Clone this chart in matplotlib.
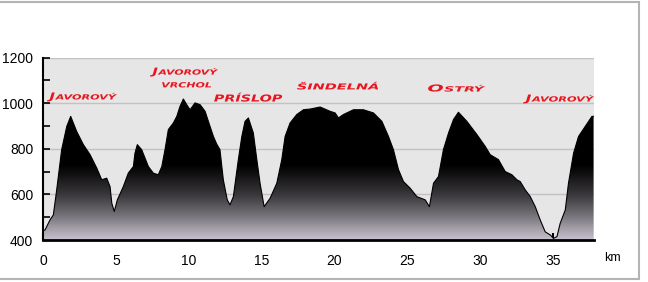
import numpy as np
import matplotlib
matplotlib.use('Agg')
import matplotlib.pyplot as plt
from matplotlib.patches import Polygon, PathPatch, Rectangle
from matplotlib.textpath import TextPath
from matplotlib.font_manager import FontProperties
from matplotlib.path import Path
from matplotlib.transforms import Affine2D, ScaledTranslation

# elevation profile (km, m a.s.l.)
km = [0.0, 0.14, 0.48, 0.71, 0.94, 1.28, 1.63, 1.90, 2.31, 2.77, 3.23, 3.69, 4.03, 4.37,
      4.60, 4.72, 4.89, 5.10, 5.51, 5.85, 6.20, 6.31, 6.47, 6.77, 7.00, 7.23, 7.57, 7.91,
      8.15, 8.37, 8.60, 8.94, 9.18, 9.40, 9.63, 9.86, 10.09, 10.43, 10.78, 11.12, 11.46,
      11.69, 11.92, 12.14, 12.37, 12.64, 12.83, 13.06, 13.40, 13.64, 13.86, 14.09, 14.43,
      14.67, 14.89, 15.17, 15.58, 16.04, 16.38, 16.61, 16.95, 17.41, 17.87, 18.33, 19.01,
      19.70, 20.04, 20.27, 20.61, 21.30, 21.98, 22.67, 23.25, 23.70, 24.04, 24.39, 24.73,
      25.19, 25.65, 26.22, 26.51, 26.79, 27.13, 27.47, 27.82, 28.16, 28.50, 29.08, 29.77,
      30.34, 30.68, 31.25, 31.71, 32.17, 32.51, 32.74, 33.08, 33.43, 33.77, 34.11, 34.45,
      34.80, 35.02, 35.26, 35.48, 35.83, 36.05, 36.40, 36.74, 37.20, 37.66, 37.77]
elev = [440, 444, 488, 510, 620, 796, 898, 942, 876, 818, 774, 715, 664, 671,
        634, 561, 525, 576, 634, 693, 722, 781, 818, 796, 759, 722, 693, 686,
        722, 796, 884, 913, 942, 986, 1018, 993, 971, 1001, 993, 964, 898,
        854, 820, 796, 664, 576, 554, 590, 752, 854, 920, 935, 869,
        752, 649, 546, 583, 649, 752, 854, 913, 950, 971, 974, 983,
        964, 957, 935, 950, 971, 971, 957, 920, 854, 796, 708, 656,
        627, 590, 576, 546, 649, 678, 796, 869, 928, 960, 920, 862,
        810, 774, 752, 700, 686, 664, 656, 620, 590, 546, 488, 436,
        422, 407, 415, 473, 532, 649, 781, 854, 898, 942, 942]

# place names
names = ['Javorový', 'Javorový', 'vrchol', 'Príslop', 'Šindelná', 'Ostrý', 'Javorový']

x_ticks = [0, 5, 10, 15, 20, 25, 30, 35]
y_ticks = [400, 600, 800, 1000, 1200]

red = '#e8141e'

fig = plt.figure(figsize=(6.48, 2.82), dpi=100)
fig.patch.set_facecolor('white')
ax = fig.add_axes([43 / 648, 1 - 240 / 282, (594 - 43) / 648, (240 - 57.5) / 282])
ax.set_facecolor('#e6e6e6')

for gl in [600, 800, 1000, 1200]:
    ax.axhline(gl, color='#c2c2c2', lw=1, zorder=1)

# gradient fill under the profile: grey at the valley floor, black on the ridges
levels = np.linspace(400, 1200, 400)
stops_h = [400, 450, 510, 600, 680, 730, 1200]
stops_g = [0.78, 0.64, 0.45, 0.22, 0.08, 0.0, 0.0]
g = np.interp(levels, stops_h, stops_g)
rgba = np.ones((len(levels), 4, 4))
rgba[:, :, 0] = g[:, None]
rgba[:, :, 1] = (g * 0.97)[:, None]
rgba[:, :, 2] = np.clip(g * 1.03, 0, 1)[:, None]
im = ax.imshow(rgba, extent=[0, 37.8, 400, 1200], origin='lower', aspect='auto',
               zorder=2, interpolation='bilinear')
verts = [(km[0], 400)] + list(zip(km, elev)) + [(km[-1], 400)]
poly = Polygon(verts, closed=True, facecolor='none', edgecolor='none')
ax.add_patch(poly)
im.set_clip_path(poly)
ax.plot(km, elev, color='black', lw=0.8, zorder=3)

ax.set_xlim(0, 37.8)
ax.set_ylim(400, 1200)

for s in ['top', 'right']:
    ax.spines[s].set_visible(False)
ax.spines['left'].set_linewidth(1.5)
ax.spines['bottom'].set_linewidth(2)
ax.spines['left'].set_zorder(4)
ax.spines['bottom'].set_zorder(4)

ax.set_xticks(x_ticks)
ax.set_xticks(np.arange(1, 38), minor=True)
ax.set_yticks(y_ticks)
ax.set_yticks(np.arange(500, 1200, 200), minor=True)
ax.tick_params(axis='both', which='both', direction='in', color='black')
ax.tick_params(axis='x', which='major', length=5, width=1.5, pad=10)
ax.tick_params(axis='x', which='minor', length=3, width=1.2)
ax.tick_params(axis='y', which='major', length=5, width=1.2, pad=7)
ax.tick_params(axis='y', which='minor', length=5, width=1.2)
for lab in ax.get_xticklabels() + ax.get_yticklabels():
    lab.set_fontfamily('Liberation Sans')
    lab.set_fontsize(10)
fig.text(612 / 648, 1 - 258 / 282, 'km', ha='center', va='center',
         fontsize=9, family='Liberation Sans')

fp = FontProperties(family='DejaVu Sans', weight='bold', style='oblique')


def place_label(x, y, word, cap_px, width_px, big_px=None):
    # wide red small-caps label drawn as a path, x/y = left baseline in data units
    word = word.upper()
    paths = []
    offset = 0.0
    if big_px:
        p1 = TextPath((0, 0), word[0], size=big_px / 0.729, prop=fp)
        paths.append(p1)
        offset = p1.get_extents().x1 + 0.6
        word = word[1:]
    p2 = TextPath((offset, 0), word, size=cap_px / 0.729, prop=fp)
    paths.append(p2)
    path = Path.make_compound_path(*paths)
    ext = path.get_extents()
    sx = width_px / ext.width
    tr = Affine2D().translate(-ext.x0, 0).scale(sx, 1) + ScaledTranslation(x, y, ax.transData)
    fig.patches.append(PathPatch(path, facecolor=red, edgecolor='none',
                                 transform=tr, figure=fig))


place_label(0.27, 1016, names[0], 5.2, 70, big_px=7)
place_label(7.34, 1125, names[1], 5.2, 68, big_px=7)
place_label(8.17, 1069, names[2], 5.2, 49)
place_label(11.74, 1007, names[3], 7, 68)
place_label(17.43, 1060, names[4], 6, 81)
place_label(26.42, 1051, names[5], 5.2, 57, big_px=7)
place_label(32.94, 1007, names[6], 5.2, 71, big_px=7)

# light frame around the picture
fig.patches.append(Rectangle((-0.01, 3 / 282), 639 / 648 + 0.01, 1 - 4.5 / 282,
                             transform=fig.transFigure, facecolor='none',
                             edgecolor='#b4b4b4', lw=1.5, figure=fig))

fig.savefig('out.png', dpi=100)
